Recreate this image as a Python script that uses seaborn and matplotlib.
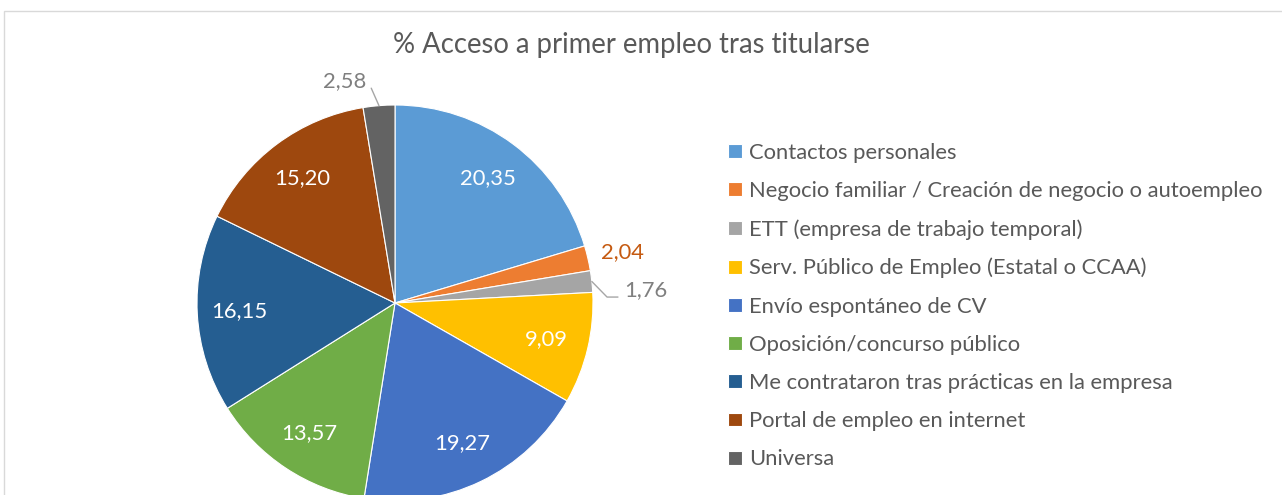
import numpy as np
import pandas as pd
import matplotlib
matplotlib.use('Agg')
import matplotlib.pyplot as plt
from matplotlib.patches import Rectangle
import seaborn as sns

# datos
categorias = ['Contactos personales',
              'Negocio familiar / Creación de negocio o autoempleo',
              'ETT (empresa de trabajo temporal)',
              'Serv. Público de Empleo (Estatal o CCAA)',
              'Envío espontáneo de CV',
              'Oposición/concurso público',
              'Me contrataron tras prácticas en la empresa',
              'Portal de empleo en internet',
              'Universa']
valores = [20.35, 2.04, 1.76, 9.09, 19.27, 13.57, 16.15, 15.20, 2.58]
colores = ['#5B9BD5', '#ED7D31', '#A5A5A5', '#FFC000', '#4472C4',
           '#70AD47', '#255E91', '#9E480E', '#636363']

df = pd.DataFrame({'categoria': categorias, 'valor': valores})
df['etiqueta'] = df['valor'].map(lambda v: f'{v:.2f}'.replace('.', ','))

sns.set_theme(style='white')
plt.rcParams['font.family'] = ['Lato', 'DejaVu Sans']

W, H = 1282, 495
fig = plt.figure(figsize=(W / 100, H / 100), dpi=100)

# pie: centre (395, 303) px, radius 198 px
cx, cy, r = 395, 303, 198
ax = fig.add_axes([(cx - r) / W, (H - cy - r) / H, 2 * r / W, 2 * r / H])

wedges, _ = ax.pie(df['valor'], colors=colores, startangle=90, counterclock=False,
                   wedgeprops=dict(linewidth=0.8, edgecolor='white'))
ax.set_xlim(-1, 1)
ax.set_ylim(-1, 1)
ax.axis('off')

fs = 15.8
gris = '#7F7F7F'
for i, (w, txt) in enumerate(zip(wedges, df['etiqueta'])):
    ang = np.deg2rad((w.theta1 + w.theta2) / 2)
    ux, uy = np.cos(ang), np.sin(ang)
    if i == 1:
        ax.text(1.14 * ux + 0.04, 1.14 * uy, txt, color='#C55A11', fontsize=fs,
                ha='center', va='center', clip_on=False)
    elif i == 2:
        ax.plot([ux, 1.071, 1.126], [uy, 0.030, 0.030], color='#A6A6A6', lw=1,
                clip_on=False)
        ax.text(1.155, 0.066, txt, color=gris, fontsize=fs, ha='left', va='center',
                clip_on=False)
    elif i == 8:
        ax.plot([ux, -0.12], [uy, 1.085], color='#A6A6A6', lw=1, clip_on=False)
        ax.text(-0.145, 1.12, txt, color=gris, fontsize=fs, ha='right', va='center',
                clip_on=False)
    else:
        ax.text(0.785 * ux, 0.785 * uy, txt, color='white', fontsize=fs,
                ha='center', va='center')

fig.text(631 / W, 1 - 45 / H, '% Acceso a primer empleo tras titularse',
         color='#595959', fontsize=19.8, ha='center', va='center')

leg = fig.legend(wedges, df['categoria'], loc='center left',
                 bbox_to_anchor=(728 / W, 1 - 306 / H), frameon=False,
                 fontsize=fs, handlelength=0.64, handleheight=0.6,
                 handletextpad=0.3, labelspacing=0.83, borderpad=0,
                 borderaxespad=0)
for t in leg.get_texts():
    t.set_color('#595959')

# marco del area del grafico
fig.patches.append(Rectangle((4 / W, -0.1), 2, 1 - 11 / H + 0.1,
                             transform=fig.transFigure, fill=False,
                             edgecolor='#D9D9D9', lw=1))

fig.savefig('out.png', dpi=100, facecolor='white')
